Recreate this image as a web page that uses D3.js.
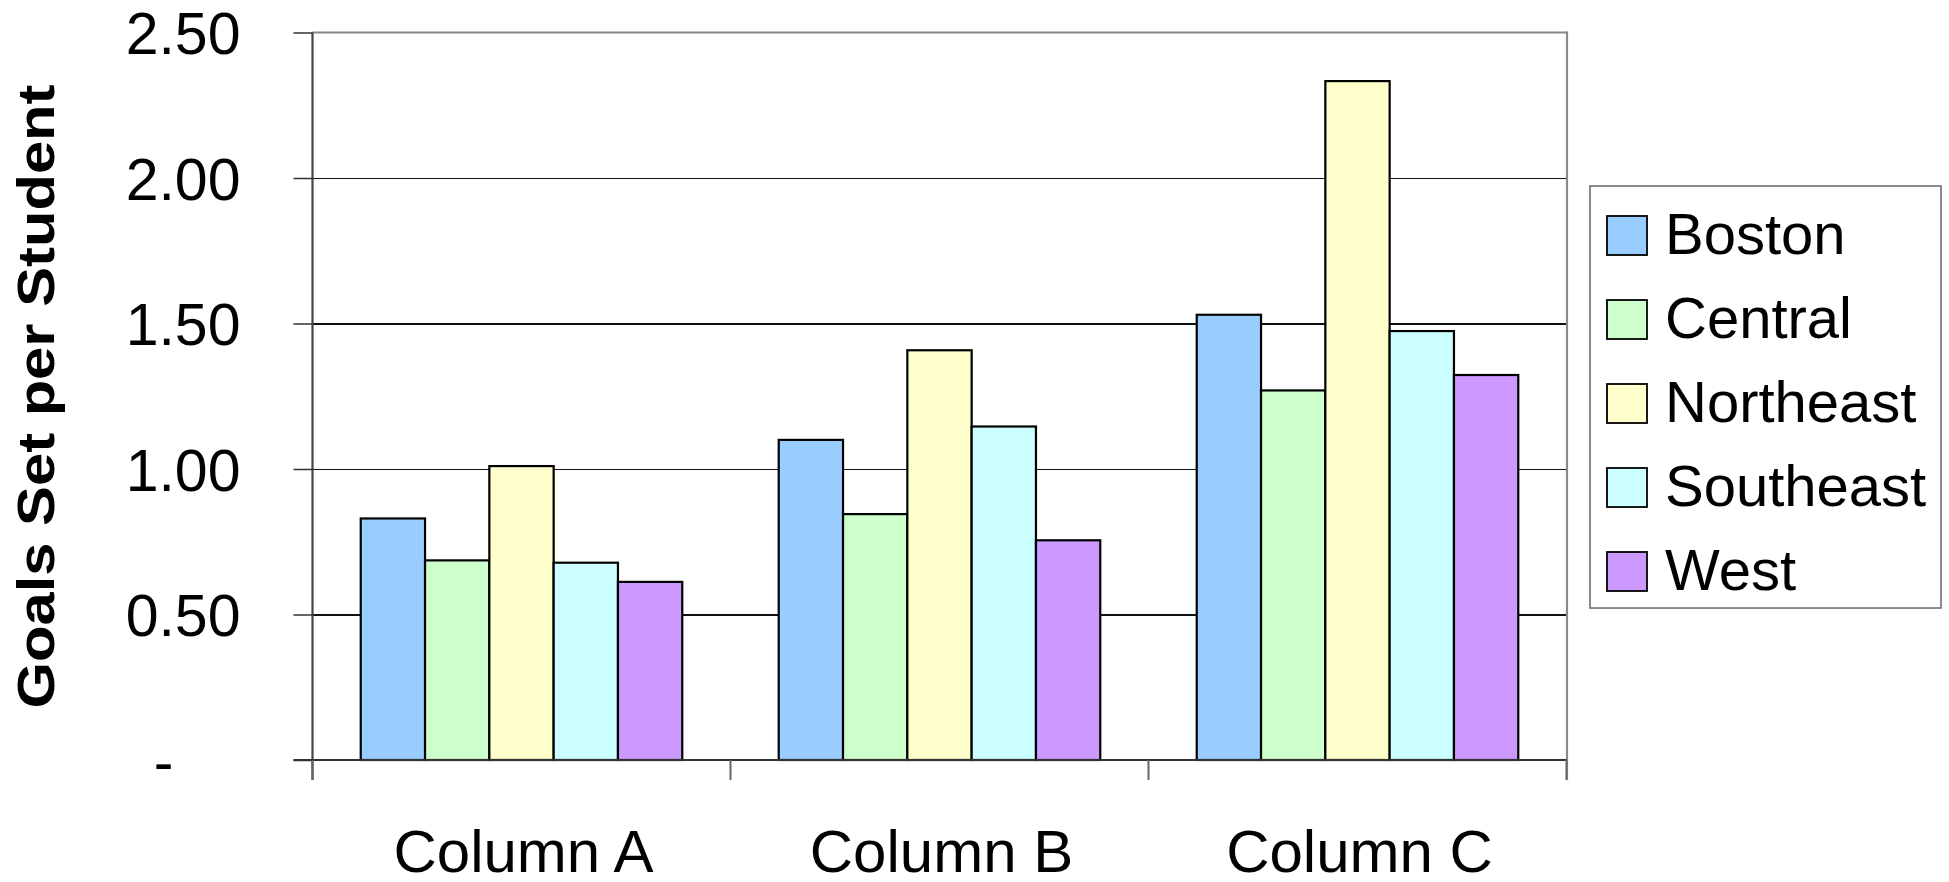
<!DOCTYPE html>
<html>
<head>
<meta charset="utf-8">
<script src="https://cdn.jsdelivr.net/npm/d3@7"></script>
<style>
  html, body { margin: 0; padding: 0; background: #fff; }
  svg { display: block; font-family: "Liberation Sans", Arial, sans-serif; }
</style>
</head>
<body>
<svg id="chart" width="1949" height="882"></svg>
<script>
// ---- data ----
const categories = ["Column A", "Column B", "Column C"];
const seriesNames = ["Boston", "Central", "Northeast", "Southeast", "West"];
const boston    = [0.83, 1.10, 1.53];
const central   = [0.686, 0.845, 1.27];
const northeast = [1.01, 1.408, 2.333];
const southeast = [0.678, 1.146, 1.474];
const west      = [0.612, 0.755, 1.323];
const seriesValues = [boston, central, northeast, southeast, west];
const seriesColors = ["#99CCFF", "#CCFFCC", "#FFFFCC", "#CCFFFF", "#CC99FF"];
const yTickValues = [0, 0.5, 1.0, 1.5, 2.0, 2.5];
const yTickLabels = ["-", "0.50", "1.00", "1.50", "2.00", "2.50"];
const yTitle = "Goals Set per Student";

(function () {
// ---- layout ----
const pLeft = 312.5, pRight = 1566.5, pTop = 32.5, pBottom = 760;
const svg = d3.select("#chart");

const x0 = d3.scaleBand().domain(categories).range([pLeft, pRight]).paddingInner(0).paddingOuter(0);
const x1 = d3.scaleBand().domain(seriesNames).range([0, x0.bandwidth()]).paddingInner(0).paddingOuter(0.75);
const y = d3.scaleLinear().domain([0, 2.5]).range([pBottom, pTop]);

// gridlines
const grid = svg.append("g").attr("transform", `translate(${pLeft},0)`)
  .call(d3.axisLeft(y).tickValues(yTickValues.filter(v => v > 0 && v < 2.5)).tickSize(-(pRight - pLeft)).tickFormat(""));
grid.select(".domain").remove();
grid.selectAll("line").attr("stroke", "#111").attr("stroke-width", 1.2).attr("shape-rendering", "crispEdges");

// plot frame top/right (gray)
svg.append("line").attr("x1", pLeft).attr("x2", pRight + 1).attr("y1", y(2.5)).attr("y2", y(2.5))
  .attr("stroke", "#8a8a8a").attr("stroke-width", 2.2);
svg.append("line").attr("x1", pRight + 0.5).attr("x2", pRight + 0.5).attr("y1", y(2.5) - 1).attr("y2", pBottom + 20)
  .attr("stroke", "#8a8a8a").attr("stroke-width", 2.2);

// bars
const groups = svg.append("g").selectAll("g").data(seriesNames).join("g")
  .attr("fill", (d, i) => seriesColors[i]);
groups.selectAll("rect")
  .data((s, i) => categories.map((c, j) => ({ c, s, v: seriesValues[i][j] })))
  .join("rect")
  .attr("x", d => x0(d.c) + x1(d.s))
  .attr("width", x1.bandwidth())
  .attr("y", d => y(d.v))
  .attr("height", d => y(0) - y(d.v))
  .attr("stroke", "#000")
  .attr("stroke-width", 2.2);

// y axis with ticks and labels
const yAxis = svg.append("g").attr("transform", `translate(${pLeft},0)`)
  .call(d3.axisLeft(y).tickValues(yTickValues).tickSize(19).tickPadding(53)
    .tickFormat((d, i) => yTickLabels[i]));
yAxis.select(".domain").attr("d", `M0,${pTop}V${pBottom + 20}`).attr("stroke", "#444").attr("stroke-width", 2.2);
yAxis.selectAll(".tick line").attr("stroke", "#333").attr("stroke-width", 1.5);
yAxis.selectAll(".tick text")
  .attr("font-size", 59).attr("fill", "#000")
  .attr("font-family", "'Liberation Sans', Arial, sans-serif")
  .attr("dy", "0.36em")
  .attr("dx", d => d === 0 ? -67 : 0);

// zero baseline
svg.append("line").attr("x1", pLeft - 19).attr("x2", pRight).attr("y1", y(0)).attr("y2", y(0))
  .attr("stroke", "#333").attr("stroke-width", 2.2);

// category boundary ticks
const boundaries = categories.map(c => x0(c)).concat([x0(categories[categories.length - 1]) + x0.bandwidth()]);
svg.append("g").selectAll("line").data(boundaries).join("line")
  .attr("x1", d => d).attr("x2", d => d)
  .attr("y1", y(0)).attr("y2", y(0) + 20)
  .attr("stroke", "#666").attr("stroke-width", 2);

// x axis labels
const xAxis = svg.append("g").attr("transform", `translate(0,${pBottom})`)
  .call(d3.axisBottom(x0).tickSize(0).tickPadding(0));
xAxis.select(".domain").remove();
xAxis.selectAll(".tick text")
  .attr("font-size", 60).attr("fill", "#000")
  .attr("font-family", "'Liberation Sans', Arial, sans-serif")
  .attr("y", 112).attr("dy", 0).attr("dx", 2);

// y title
svg.append("text")
  .attr("transform", "translate(54,396.5) rotate(-90)")
  .attr("text-anchor", "middle")
  .attr("font-size", 52).attr("font-weight", "bold").attr("fill", "#000")
  .attr("textLength", 624).attr("lengthAdjust", "spacingAndGlyphs")
  .text(yTitle);

// legend
const lg = svg.append("g");
lg.append("rect").attr("x", 1590).attr("y", 186).attr("width", 351).attr("height", 422)
  .attr("fill", "#fff").attr("stroke", "#666").attr("stroke-width", 1.5);
const items = lg.selectAll("g.item").data(seriesNames).join("g").attr("class", "item")
  .attr("transform", (d, i) => `translate(1607,${216 + i * 84})`);
items.append("rect").attr("width", 40).attr("height", 39)
  .attr("fill", (d, i) => seriesColors[i]).attr("stroke", "#000").attr("stroke-width", 1.8);
items.append("text").attr("x", 58).attr("y", 37.5)
  .attr("font-size", 58).attr("fill", "#000")
  .text(d => d);
})();
</script>
</body>
</html>
